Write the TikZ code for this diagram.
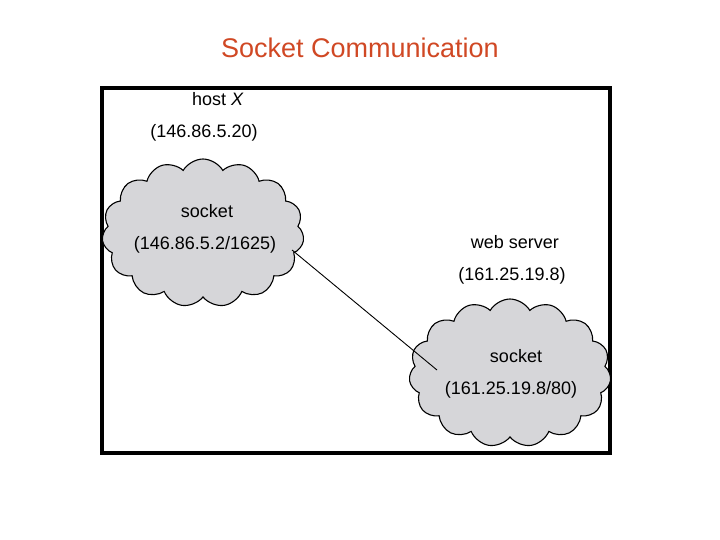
\documentclass[tikz,border=0pt]{standalone}
\usepackage{fontspec}
\setmainfont{Liberation Sans}
\usetikzlibrary{positioning,shapes.symbols}
\definecolor{titlered}{RGB}{208,72,36}
\definecolor{cloudgray}{RGB}{214,214,217}
\tikzset{
  sock/.style={cloud, cloud puffs=15, cloud puff arc=120, aspect=1.4, draw=black,
               line width=1.1pt, fill=cloudgray, minimum width=202pt,
               minimum height=148pt, inner sep=0pt},
  lbl/.style={font=\fontsize{18}{22}\selectfont, text=black, inner sep=2pt,
              text height=13pt, text depth=4pt},
  ttl/.style={font=\fontsize{27}{32}\selectfont, text=titlered},
  boxframe/.style={draw=black, line width=4pt},
  link/.style={draw=black, line width=0.9pt},
}

\begin{document}
\begin{tikzpicture}[x=1pt,y=-1pt]
\useasboundingbox (0,0) rectangle (720,540);

% title and frame
\node[ttl] (title) at (360,48) {Socket Communication};
\draw[boxframe] (102,88) rectangle (610,453);

% the two sockets
\node[sock] (cloudX) at (203,233) {};
\node[sock] (cloudS) at (510,373) {};

% connection between them
\path (cloudX.center) ++(89,17) coordinate (endX);
\path (cloudS.center) ++(-73,-3) coordinate (endS);
\draw[link] (endX) -- (endS);

% host X
\node[lbl] (hostX) at (218,101) {host \emph{X}};
\node[lbl, below=11pt of hostX.south, anchor=north, xshift=-14pt] (hostXip) {(146.86.5.20)};
\node[lbl] (sockX) at (207,213) {socket};
\node[lbl, below=11pt of sockX, xshift=-2pt] (sockXip) {(146.86.5.2/1625)};

% web server
\node[lbl] (web) at (515,244) {web server};
\node[lbl, below=11pt of web, xshift=-3pt] (webip) {(161.25.19.8)};
\node[lbl] (sockS) at (516,358) {socket};
\node[lbl, below=11pt of sockS, xshift=-5pt] (sockSip) {(161.25.19.8/80)};

\end{tikzpicture}
\end{document}
